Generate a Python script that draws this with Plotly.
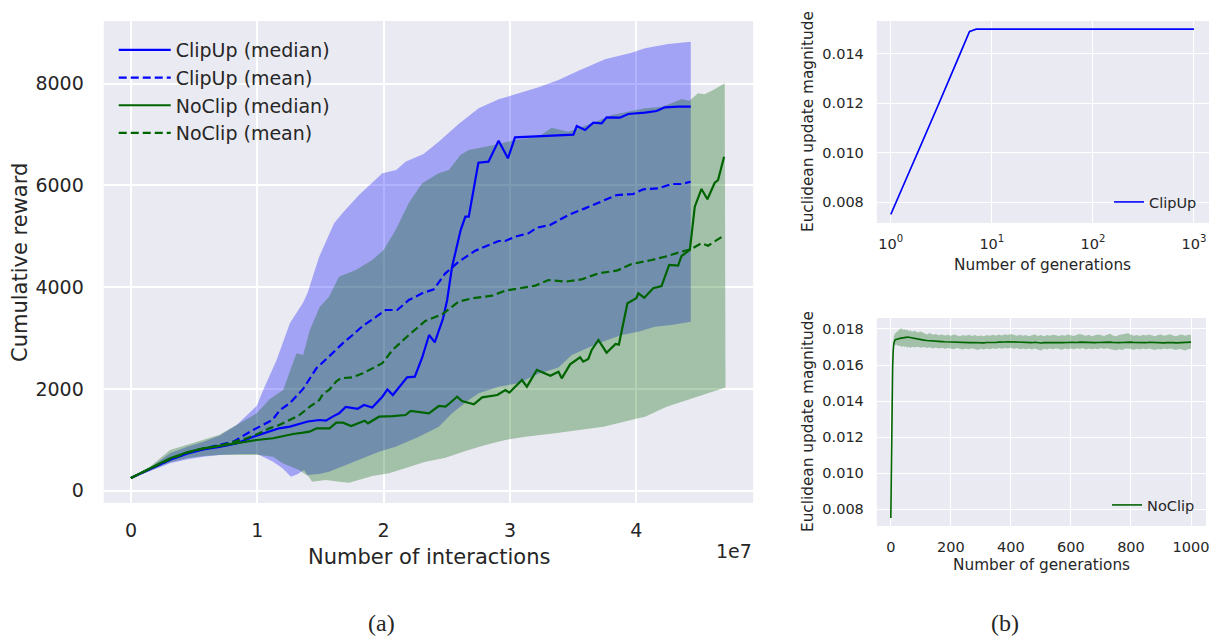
import plotly.graph_objects as go

# ---------------- Panel (a) data (x in units of 1e7 interactions) ----------------
clip_med_x = [0.0, 0.15, 0.31, 0.45, 0.574, 0.7, 0.837, 0.968, 1.10, 1.173, 1.258, 1.331, 1.40, 1.49, 1.543,
              1.6, 1.648, 1.70, 1.75, 1.795, 1.845, 1.91, 1.99, 2.03, 2.073, 2.134, 2.186, 2.247, 2.305, 2.36,
              2.405, 2.471, 2.503, 2.542, 2.61, 2.647, 2.674, 2.75, 2.83, 2.91, 2.984, 3.04, 3.147, 3.25, 3.35,
              3.502, 3.529, 3.594, 3.66, 3.726, 3.765, 3.87, 3.936, 4.068, 4.16, 4.226, 4.331, 4.431]
clip_med_y = [250, 420, 610, 730, 810, 860, 930, 1060, 1160, 1226, 1260, 1304, 1360, 1389, 1376,
              1460, 1520, 1645, 1625, 1610, 1684, 1635, 1847, 1990, 1880, 2077, 2228, 2240, 2613, 3060,
              2916, 3388, 3747, 4402, 5122, 5384, 5384, 6445, 6465, 6877, 6532, 6944, 6957, 6977, 6985,
              6996, 7166, 7088, 7231, 7218, 7337, 7330, 7402, 7428, 7461, 7533, 7546, 7546]

clip_mean_x = [0.0, 0.15, 0.31, 0.45, 0.574, 0.7, 0.811, 0.942, 1.047, 1.12, 1.18, 1.258, 1.363, 1.468,
               1.573, 1.678, 1.75, 1.836, 1.93, 2.016, 2.108, 2.2, 2.305, 2.397, 2.489, 2.594, 2.726, 2.83,
               2.91, 2.963, 3.04, 3.147, 3.213, 3.318, 3.463, 3.594, 3.713, 3.845, 3.976, 4.055, 4.173,
               4.279, 4.358, 4.43]
clip_mean_y = [250, 420, 610, 740, 830, 900, 963, 1159, 1290, 1389, 1586, 1720, 2000, 2405,
               2650, 2900, 3050, 3240, 3400, 3551, 3551, 3747, 3879, 3957, 4272, 4500, 4716, 4830,
               4907, 4907, 4991, 5058, 5168, 5221, 5417, 5548, 5679, 5810, 5830, 5922, 5941,
               6027, 6027, 6072]

noclip_med_x = [0.0, 0.15, 0.31, 0.45, 0.574, 0.7, 0.837, 0.995, 1.125, 1.18, 1.283, 1.363, 1.414, 1.47,
                1.506, 1.572, 1.625, 1.678, 1.743, 1.85, 1.876, 1.964, 2.07, 2.174, 2.214, 2.358, 2.437,
                2.49, 2.516, 2.582, 2.62, 2.714, 2.78, 2.9, 2.964, 2.995, 3.095, 3.134, 3.213, 3.32, 3.384,
                3.41, 3.476, 3.555, 3.58, 3.62, 3.647, 3.7, 3.765, 3.836, 3.862, 3.93, 4.0, 4.016, 4.063,
                4.134, 4.2, 4.26, 4.331, 4.358, 4.424, 4.463, 4.516, 4.563, 4.621, 4.647, 4.695]
noclip_med_y = [250, 430, 636, 760, 833, 880, 935, 996, 1030, 1061, 1114, 1140, 1160, 1226,
                1226, 1226, 1336, 1336, 1271, 1376, 1324, 1454, 1467, 1487, 1566, 1520, 1664,
                1651, 1704, 1847, 1762, 1697, 1835, 1881, 1979, 1926, 2175, 2044, 2372, 2260, 2339,
                2208, 2483, 2621, 2535, 2588, 2765, 2961, 2712, 2882, 2870, 3682, 3781, 3879, 3793,
                3977, 4022, 4435, 4422, 4612, 4730, 5581, 5929, 5726, 6052, 6105, 6563]

noclip_mean_x = [0.0, 0.15, 0.31, 0.45, 0.574, 0.7, 0.858, 0.916, 1.016, 1.1, 1.173, 1.258, 1.33, 1.416,
                 1.49, 1.52, 1.568, 1.626, 1.66, 1.75, 1.836, 1.99, 2.07, 2.2, 2.33, 2.463, 2.594, 2.7,
                 2.858, 2.963, 3.095, 3.2, 3.305, 3.437, 3.568, 3.7, 3.845, 3.963, 4.121, 4.226, 4.358,
                 4.431, 4.515, 4.568, 4.7]
noclip_mean_y = [250, 430, 620, 750, 830, 880, 979, 1030, 1127, 1230, 1290, 1400, 1480, 1650,
                 1780, 1900, 1978, 2150, 2209, 2228, 2307, 2504, 2765, 3060, 3335, 3466, 3714, 3781,
                 3832, 3930, 3977, 4028, 4140, 4107, 4153, 4271, 4323, 4454, 4533, 4598, 4697,
                 4743, 4861, 4815, 5024]

clip_up_x = [0.0, 0.15, 0.31, 0.45, 0.574, 0.7, 0.837, 0.995, 1.047, 1.153, 1.258, 1.363, 1.397, 1.49,
             1.608, 1.673, 1.805, 1.99, 2.1, 2.173, 2.316, 2.436, 2.594, 2.752, 2.91, 3.068, 3.226,
             3.384, 3.542, 3.752, 3.963, 4.068, 4.252, 4.431]
clip_up_y = [260, 450, 735, 870, 963, 1080, 1291, 1664, 1978, 2568, 3289, 3700, 3879, 4598,
             5254, 5451, 5810, 6237, 6302, 6465, 6616, 6858, 7206, 7514, 7691, 7809, 7927,
             8070, 8253, 8477, 8607, 8693, 8777, 8823]
clip_lo_x = [0.0, 0.15, 0.31, 0.45, 0.574, 0.7, 0.858, 0.995, 1.016, 1.074, 1.125, 1.2, 1.266, 1.318,
             1.37, 1.397, 1.49, 1.568, 1.648, 1.806, 1.964, 2.095, 2.28, 2.437, 2.542, 2.674, 2.753,
             2.91, 3.068, 3.226, 3.384, 3.49, 3.7, 3.884, 4.016, 4.147, 4.279, 4.431]
clip_lo_y = [240, 380, 538, 620, 668, 700, 720, 721, 701, 636, 570, 440, 275, 322,
             406, 308, 328, 373, 440, 603, 766, 865, 1061, 1258, 1520, 1782, 1914,
             2044, 2110, 2300, 2420, 2666, 2896, 3060, 3125, 3223, 3256, 3321]

noclip_up_x = [0.0, 0.15, 0.31, 0.45, 0.574, 0.7, 0.858, 0.995, 1.10, 1.205, 1.31, 1.363, 1.416, 1.495,
               1.568, 1.647, 1.78, 1.91, 2.0, 2.095, 2.2, 2.305, 2.436, 2.516, 2.608, 2.674, 2.884,
               3.04, 3.226, 3.33, 3.463, 3.647, 3.805, 4.068, 4.2, 4.278, 4.357, 4.42, 4.489, 4.54,
               4.62, 4.7]
noclip_up_y = [260, 470, 800, 900, 1000, 1100, 1324, 1520, 1800, 1979, 2700, 2666, 3158, 3616,
               3813, 4205, 4337, 4533, 4730, 5123, 5660, 6040, 6237, 6302, 6597, 6695, 6800,
               6891, 6956, 7133, 7055, 7219, 7383, 7514, 7546, 7612, 7697, 7664, 7809, 7790,
               7888, 8005]
noclip_lo_x = [0.0, 0.15, 0.31, 0.45, 0.574, 0.7, 0.858, 1.016, 1.125, 1.2, 1.331, 1.408, 1.434, 1.543,
               1.648, 1.727, 1.806, 1.911, 2.043, 2.174, 2.332, 2.49, 2.648, 2.806, 2.964, 3.122,
               3.357, 3.74, 4.007, 4.07, 4.24, 4.44, 4.606, 4.706]
noclip_lo_y = [240, 400, 560, 640, 680, 700, 701, 701, 668, 538, 406, 275, 177, 210,
               177, 158, 210, 288, 341, 440, 570, 648, 780, 898, 996, 1061,
               1127, 1257, 1420, 1453, 1648, 1811, 1941, 2026]

a_xticks = [0, 1, 2, 3, 4]
a_xlabels = ["0", "1", "2", "3", "4"]
a_yticks = [0, 2000, 4000, 6000, 8000]

# ---------------- Panel (b) top: ClipUp update magnitude ----------------
cu_gen = [1, 2, 3, 4, 5, 6, 7, 1000]
cu_mag = [0.0075, 0.0103, 0.0120, 0.0132, 0.0141, 0.0149, 0.0150, 0.0150]
cu_hi = [0.0075, 0.01036, 0.01207, 0.01327, 0.01417, 0.01496, 0.0150, 0.0150]
cu_lo = [0.0075, 0.01024, 0.01193, 0.01313, 0.01403, 0.01484, 0.0150, 0.0150]

# ---------------- Panel (b) bottom: NoClip update magnitude (x1e-5) ----------------
nc_gen = [0, 2, 4, 6, 8, 10, 14, 20, 25, 30,
          35, 40, 45, 50, 55, 60, 65, 70, 80, 90,
          100, 110, 120, 130, 140, 150, 160, 170, 180, 190,
          200, 210, 220, 230, 240, 250, 260, 270, 280, 290,
          300, 310, 320, 330, 340, 350, 360, 370, 380, 390,
          400, 410, 420, 430, 440, 450, 460, 470, 480, 490,
          500, 510, 520, 530, 540, 550, 560, 570, 580, 590,
          600, 610, 620, 630, 640, 650, 660, 670, 680, 690,
          700, 710, 720, 730, 740, 750, 760, 770, 780, 790,
          800, 810, 820, 830, 840, 850, 860, 870, 880, 890,
          900, 910, 920, 930, 940, 950, 960, 970, 980, 990,
          1000]
nc_med = [750, 1150, 1420, 1580, 1680, 1720, 1740, 1745, 1745, 1748,
          1750, 1751, 1752, 1754, 1755, 1754, 1752, 1750, 1747, 1744,
          1741, 1738, 1736, 1734, 1733, 1731, 1730, 1730, 1729, 1728,
          1727, 1728, 1726, 1727, 1725, 1726, 1724, 1725, 1724, 1725,
          1724, 1723, 1725, 1724, 1726, 1725, 1727, 1726, 1728, 1729,
          1728, 1727, 1726, 1725, 1724, 1725, 1723, 1724, 1726, 1723,
          1722, 1724, 1725, 1723, 1724, 1726, 1725, 1724, 1723, 1725,
          1726, 1724, 1725, 1727, 1726, 1724, 1725, 1723, 1724, 1725,
          1726, 1724, 1725, 1727, 1725, 1723, 1724, 1725, 1726, 1729,
          1727, 1725, 1724, 1723, 1725, 1724, 1726, 1725, 1723, 1724,
          1725, 1723, 1724, 1726, 1724, 1723, 1724, 1725, 1723, 1726,
          1727]
nc_hi = [755, 1160, 1430, 1600, 1710, 1760, 1775, 1782, 1790, 1798,
         1806, 1795, 1800, 1792, 1797, 1788, 1793, 1785, 1790, 1780,
         1786, 1776, 1770, 1778, 1768, 1772, 1765, 1770, 1764, 1768,
         1762, 1770, 1765, 1760, 1767, 1763, 1768, 1761, 1766, 1760,
         1764, 1759, 1766, 1762, 1768, 1763, 1770, 1764, 1771, 1766,
         1772, 1767, 1763, 1768, 1762, 1767, 1760, 1765, 1769, 1761,
         1766, 1760, 1767, 1762, 1768, 1765, 1761, 1767, 1762, 1769,
         1765, 1761, 1768, 1772, 1766, 1762, 1768, 1760, 1765, 1770,
         1766, 1761, 1768, 1773, 1764, 1760, 1766, 1769, 1774, 1776,
         1768, 1763, 1767, 1761, 1768, 1764, 1770, 1765, 1760, 1766,
         1769, 1762, 1767, 1771, 1764, 1760, 1766, 1769, 1762, 1768,
         1766]
nc_lo = [745, 1140, 1410, 1560, 1660, 1700, 1712, 1712, 1705, 1708,
         1700, 1706, 1698, 1705, 1696, 1702, 1694, 1700, 1698, 1702,
         1696, 1700, 1694, 1699, 1692, 1697, 1691, 1696, 1690, 1695,
         1692, 1688, 1694, 1690, 1686, 1692, 1687, 1693, 1688, 1684,
         1690, 1686, 1692, 1688, 1693, 1689, 1694, 1690, 1695, 1691,
         1696, 1690, 1694, 1688, 1692, 1687, 1691, 1686, 1692, 1688,
         1680, 1690, 1686, 1692, 1687, 1693, 1688, 1685, 1691, 1687,
         1692, 1688, 1693, 1689, 1694, 1686, 1691, 1687, 1692, 1688,
         1694, 1689, 1693, 1690, 1685, 1682, 1688, 1684, 1690, 1692,
         1688, 1685, 1690, 1686, 1692, 1687, 1691, 1686, 1683, 1689,
         1686, 1691, 1687, 1692, 1686, 1683, 1689, 1686, 1681, 1688,
         1690]
NC_UNIT = 1e-5

b_yticks_top = [0.008, 0.010, 0.012, 0.014]
b_yticks_bot = [0.008, 0.010, 0.012, 0.014, 0.016, 0.018]
b_xticks_bot = [0, 200, 400, 600, 800, 1000]

BLUE = "#0000FF"
GREEN = "#006400"
BLUE_FILL = "rgba(0,0,255,0.3)"
GREEN_FILL = "rgba(0,100,0,0.3)"
TXT = "#262626"
FONT = "DejaVu Sans"

fig = go.Figure()


def band(xu, yu, xl, yl, color, xa, ya):
    fig.add_trace(go.Scatter(x=list(xu) + list(xl)[::-1], y=list(yu) + list(yl)[::-1],
                             fill="toself", fillcolor=color, line=dict(width=0),
                             mode="lines", showlegend=False, hoverinfo="skip",
                             xaxis=xa, yaxis=ya))


# Panel (a)
band(clip_up_x, clip_up_y, clip_lo_x, clip_lo_y, BLUE_FILL, "x", "y")
band(noclip_up_x, noclip_up_y, noclip_lo_x, noclip_lo_y, GREEN_FILL, "x", "y")

lines_a = [
    ("ClipUp (median)", clip_med_x, clip_med_y, BLUE, "solid"),
    ("ClipUp (mean)", clip_mean_x, clip_mean_y, BLUE, "8px,4px"),
    ("NoClip (median)", noclip_med_x, noclip_med_y, GREEN, "solid"),
    ("NoClip (mean)", noclip_mean_x, noclip_mean_y, GREEN, "8px,4px"),
]
for i, (name, xs, ys, col, dash) in enumerate(lines_a):
    fig.add_trace(go.Scatter(x=xs, y=ys, mode="lines", name=name,
                             line=dict(color=col, width=2.2, dash=dash),
                             legendgroup="g%d" % i, legend="legend",
                             xaxis="x", yaxis="y"))

# Panel (b) top
band(cu_gen, cu_hi, cu_gen, cu_lo, BLUE_FILL, "x2", "y2")
fig.add_trace(go.Scatter(x=cu_gen, y=cu_mag, mode="lines", name="ClipUp",
                         line=dict(color=BLUE, width=1.6), legend="legend2",
                         xaxis="x2", yaxis="y2"))

# Panel (b) bottom
band(nc_gen, [v * NC_UNIT for v in nc_hi], nc_gen, [v * NC_UNIT for v in nc_lo],
     GREEN_FILL, "x3", "y3")
fig.add_trace(go.Scatter(x=nc_gen, y=[v * NC_UNIT for v in nc_med], mode="lines", name="NoClip",
                         line=dict(color=GREEN, width=1.6), legend="legend3",
                         xaxis="x3", yaxis="y3"))

# The page body adds an 8px margin, so the figure is sized to fit the window.
OFF = 8
W, H = 1224 - OFF, 639 - OFF


def px_x(p):
    return (p - OFF) / W


def px_y(p):
    return (639 - p) / H


grid_main = dict(showgrid=True, gridcolor="white", gridwidth=1.6, zeroline=False,
                 showline=False, ticks="", tickfont=dict(family=FONT, size=19, color=TXT))
grid_b = dict(showgrid=True, gridcolor="white", gridwidth=1.2, zeroline=False,
              showline=False, ticks="", tickfont=dict(family=FONT, size=14.5, color=TXT))

fig.update_layout(
    width=W, height=H,
    margin=dict(l=0, r=0, t=0, b=0),
    paper_bgcolor="white",
    plot_bgcolor="#EAEAF2",
    font=dict(family=FONT, color=TXT),
    xaxis=dict(domain=[px_x(104), px_x(755)], range=[-0.215, 4.925],
               tickvals=a_xticks, ticktext=a_xlabels, anchor="y",
               ticklabelstandoff=14, **grid_main),
    yaxis=dict(domain=[px_y(503), px_y(21)], range=[-242, 9230],
               tickvals=a_yticks, anchor="x", ticklabelstandoff=19, **grid_main),
    xaxis2=dict(domain=[px_x(879), px_x(1212)], type="log", range=[-0.138, 3.149],
                tickvals=[1, 10, 100, 1000],
                ticktext=["10<sup>0</sup>", "10<sup>1</sup>", "10<sup>2</sup>", "10<sup>3</sup>"],
                anchor="y2", ticklabelstandoff=10, **grid_b),
    yaxis2=dict(domain=[px_y(223), px_y(21)], range=[0.00715, 0.01533],
                tickvals=b_yticks_top, tickformat=".3f", anchor="x2",
                ticklabelstandoff=12, **grid_b),
    xaxis3=dict(domain=[px_x(879), px_x(1209)], range=[-46.5, 1050],
                tickvals=b_xticks_bot, anchor="y3", ticklabelstandoff=10, **grid_b),
    yaxis3=dict(domain=[px_y(526), px_y(318)], range=[0.00706, 0.01861],
                tickvals=b_yticks_bot, tickformat=".3f", anchor="x3",
                ticklabelstandoff=12, **grid_b),
    legend=dict(x=px_x(114), y=px_y(31), xanchor="left", yanchor="top",
                bgcolor="rgba(0,0,0,0)", font=dict(family=FONT, size=19, color=TXT),
                tracegroupgap=0, itemwidth=52, traceorder="grouped"),
    legend2=dict(x=px_x(1205), y=px_y(202), xanchor="right", yanchor="middle",
                 bgcolor="rgba(0,0,0,0)", font=dict(family=FONT, size=14.5, color=TXT)),
    legend3=dict(x=px_x(1203), y=px_y(505), xanchor="right", yanchor="middle",
                 bgcolor="rgba(0,0,0,0)", font=dict(family=FONT, size=14.5, color=TXT)),
    showlegend=True,
)

annots = [
    dict(text="Cumulative reward", x=px_x(20), y=px_y(262), textangle=-90, size=21, fam=FONT),
    dict(text="Number of interactions", x=px_x(430), y=px_y(557), textangle=0, size=21, fam=FONT),
    dict(text="Euclidean update magnitude", x=px_x(810), y=px_y(122), textangle=-90, size=15.3, fam=FONT),
    dict(text="Number of generations", x=px_x(1045), y=px_y(265), textangle=0, size=15.3, fam=FONT),
    dict(text="Euclidean update magnitude", x=px_x(810), y=px_y(422), textangle=-90, size=15.3, fam=FONT),
    dict(text="Number of generations", x=px_x(1044), y=px_y(565), textangle=0, size=15.3, fam=FONT),
    dict(text="(a)", x=px_x(382), y=px_y(623), textangle=0, size=24, fam="Liberation Serif"),
    dict(text="(b)", x=px_x(1007), y=px_y(623), textangle=0, size=24, fam="Liberation Serif"),
]
for a in annots:
    fig.add_annotation(text=a["text"], x=a["x"], y=a["y"], xref="paper", yref="paper",
                       xanchor="center", yanchor="middle", textangle=a["textangle"],
                       showarrow=False, font=dict(family=a["fam"], size=a["size"], color=TXT))
fig.add_annotation(text="1e7", x=px_x(756), y=px_y(551), xref="paper", yref="paper",
                   xanchor="right", yanchor="middle", showarrow=False,
                   font=dict(family=FONT, size=19, color=TXT))

fig.write_html("out.html")
